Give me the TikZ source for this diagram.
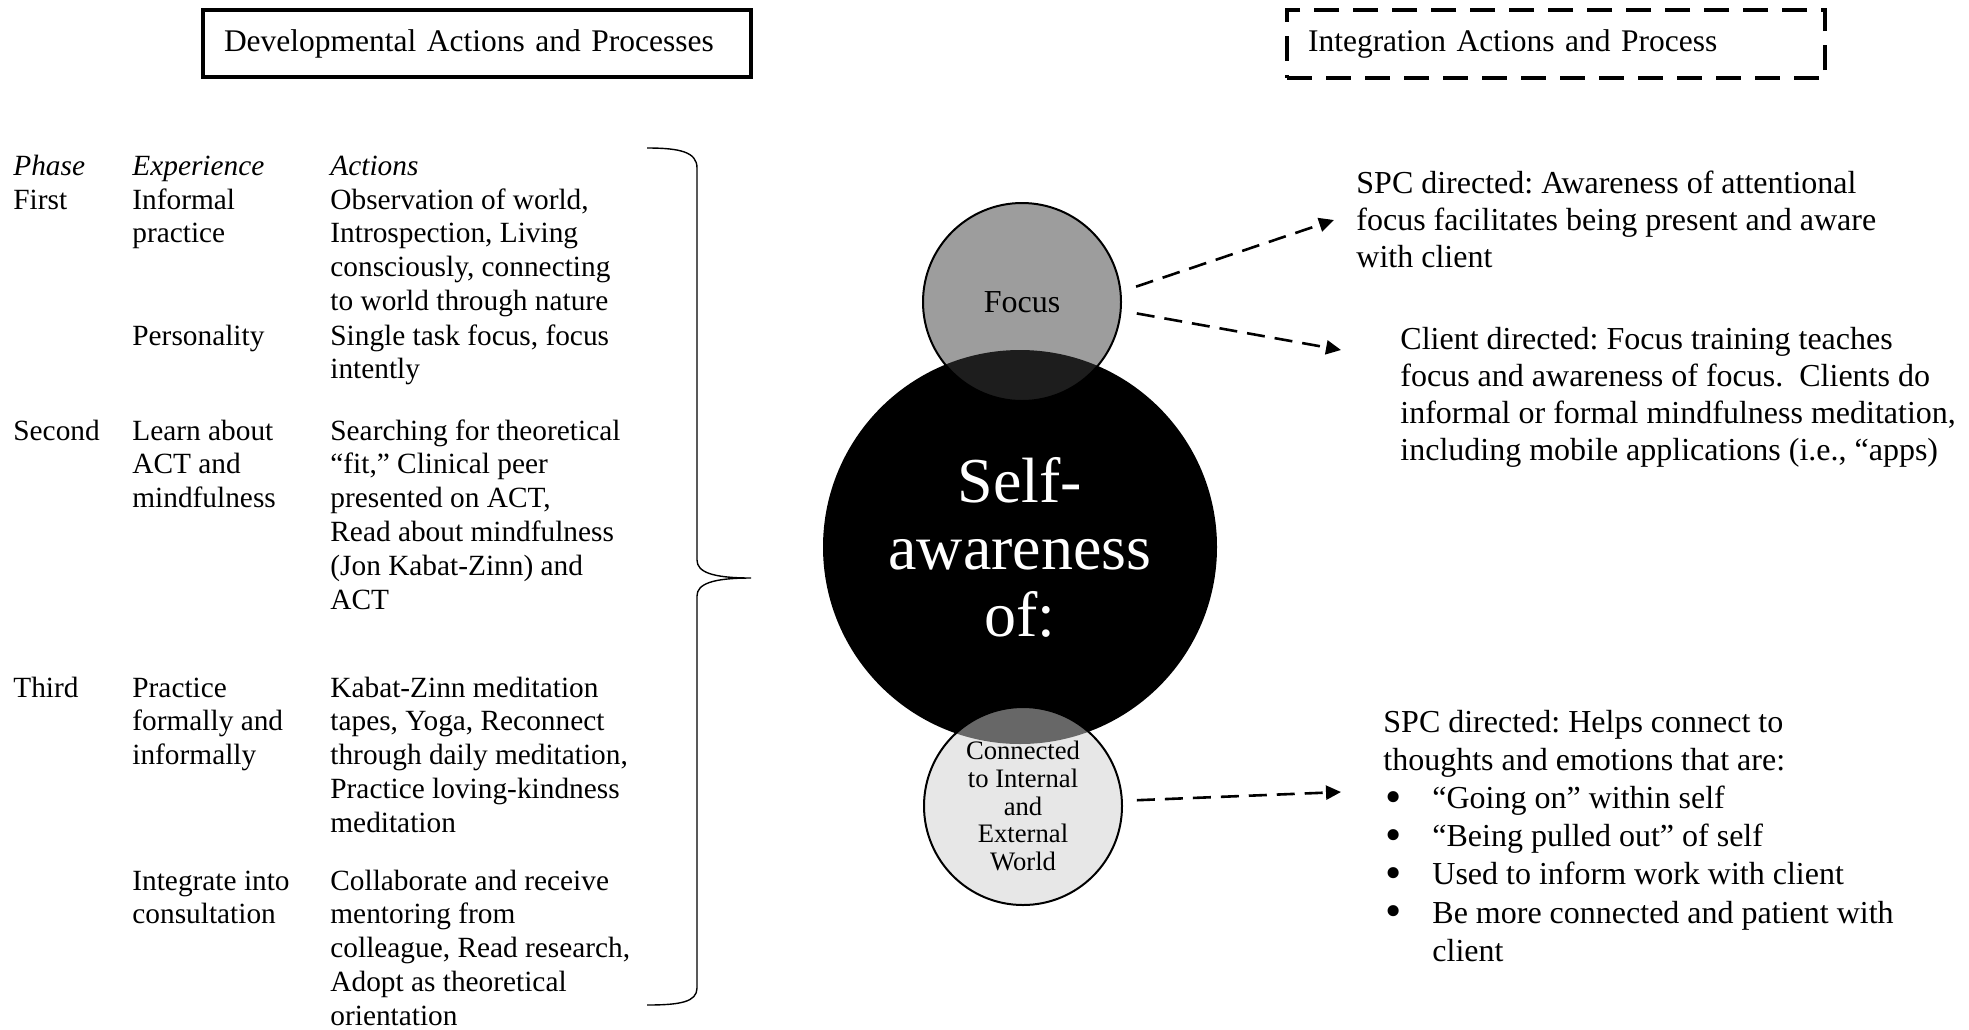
\documentclass[tikz,border=0pt]{standalone}
\usepackage{fontspec}
\setmainfont{Liberation Serif}
\usetikzlibrary{arrows.meta}
\frenchspacing

\newcommand{\celltext}[1]{\begin{tabular}[t]{@{}l@{}}#1\end{tabular}}
\newcommand{\bul}{\makebox[24.5pt][l]{\hspace{1pt}\raisebox{-0.12em}{\scalebox{1.45}{\textbullet}}}}

\begin{document}
\begin{tikzpicture}[x=0.5pt, y=-0.5pt,
	cell/.style={anchor=base west, inner sep=0pt, font=\fontsize{14.67}{16.9}\selectfont},
	note/.style={anchor=base west, inner sep=0pt, font=\fontsize{16}{18.5}\selectfont},
	titlebox/.style={line width=2pt, inner xsep=10.5pt, inner ysep=0pt, align=left, font=\fontsize{15.75}{18.5}\selectfont},
	dasharrow/.style={line width=1.3pt, dash pattern=on 9pt off 5pt, -{Triangle[length=7.5pt,width=7pt]}}]

	\useasboundingbox (0,0) rectangle (1969,1029);

	\node[titlebox, draw, minimum width=274pt, minimum height=33.5pt, text width=253pt] (devtitle) at (477,43.5) {Developmental Actions and Processes};
	\node[titlebox, draw, dash pattern=on 12.5pt off 7pt, minimum width=269pt, minimum height=34pt, text width=248pt] (inttitle) at (1556,44) {Integration Actions and Process};

	% table of phases
	\node[cell, font=\fontsize{14.67}{16.9}\selectfont\itshape] (hphase) at (13,175) {Phase};
	\node[cell, font=\fontsize{14.67}{16.9}\selectfont\itshape] (hexp) at (132,175) {Experience};
	\node[cell, font=\fontsize{14.67}{16.9}\selectfont\itshape] (hact) at (330,175) {Actions};

	\node[cell] (first) at (13,209) {First};
	\node[cell] (informal) at (132,209) {\celltext{Informal\\practice}};
	\node[cell] (observe) at (330,209) {\celltext{Observation of world,\\Introspection, Living\\consciously, connecting\\to world through nature}};
	\node[cell] (person) at (132,345) {Personality};
	\node[cell] (single) at (330,345) {\celltext{Single task focus, focus\\intently}};

	\node[cell] (second) at (13,440) {Second};
	\node[cell] (learn) at (132,440) {\celltext{Learn about\\ACT and\\mindfulness}};
	\node[cell] (search) at (330,440) {\celltext{Searching for theoretical\\“fit,” Clinical peer\\presented on ACT,\\Read about mindfulness\\(Jon Kabat-Zinn) and\\ACT}};

	\node[cell] (third) at (13,697) {Third};
	\node[cell] (practice) at (132,697) {\celltext{Practice\\formally and\\informally}};
	\node[cell] (kabat) at (330,697) {\celltext{Kabat-Zinn meditation\\tapes, Yoga, Reconnect\\through daily meditation,\\Practice loving-kindness\\meditation}};
	\node[cell] (integrate) at (132,890) {\celltext{Integrate into\\consultation}};
	\node[cell] (collab) at (330,890) {\celltext{Collaborate and receive\\mentoring from\\colleague, Read research,\\Adopt as theoretical\\orientation}};

	% brace
	\draw[line width=0.7pt] (647,148) .. controls (680,148) and (697,152) .. (697,168) -- (697,560) .. controls (697,572) and (712,578) .. (751,578) .. controls (712,578) and (697,584) .. (697,596) -- (697,988) .. controls (697,1002) and (680,1005) .. (647,1005);

	% circles
	\node[circle, fill=black, minimum size=197pt, inner sep=0pt, align=center, text=white, font=\fontsize{32}{33.5}\selectfont] (self) at (1020,547) {Self-\\awareness\\of:};
	\node[circle, draw, line width=1pt, fill=black!77, fill opacity=0.5, text opacity=1, minimum size=99pt, inner sep=0pt, font=\fontsize{16}{18.5}\selectfont] (focus) at (1022,302) {Focus};
	\node[circle, draw, line width=1pt, fill=black!19, fill opacity=0.5, text opacity=1, minimum size=99pt, inner sep=0pt, align=center, font=\fontsize{13.33}{13.8}\selectfont] (world) at (1023,806) {Connected\\to Internal\\and\\External\\World};

	% integration notes
	\node[note] (spcfocus) at (1356,193) {\celltext{SPC directed: Awareness of attentional\\focus facilitates being present and aware\\with client}};
	\node[note] (client) at (1400,349) {\celltext{Client directed: Focus training teaches\\focus and awareness of focus.\ \ Clients do\\informal or formal mindfulness meditation,\\including mobile applications (i.e., “apps)}};
	\node[note, font=\fontsize{16}{19.1}\selectfont] (spcworld) at (1383,732) {\celltext{SPC directed: Helps connect to\\thoughts and emotions that are:\\
		\bul“Going on” within self\\
		\bul“Being pulled out” of self\\
		\bul Used to inform work with client\\
		\bul Be more connected and patient with\\
		\hspace*{24.5pt}client}};

	\coordinate (spctip) at (1334,220);
	\coordinate (clienttip) at (1341,350);
	\coordinate (worldtip) at (1341,792);

	\draw[dasharrow, shorten <=7.7pt] (focus.6) -- (spctip);
	\draw[dasharrow, shorten <=7.7pt] (focus.-5) -- (clienttip);
	\draw[dasharrow, shorten <=7pt] (world.3) -- (worldtip);

\end{tikzpicture}
\end{document}
